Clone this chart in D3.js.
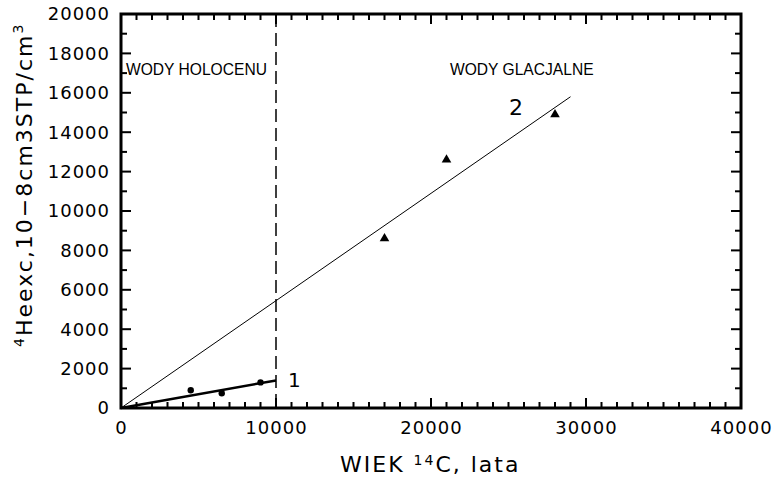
<!DOCTYPE html>
<html>
<head>
<meta charset="utf-8">
<script src="https://cdn.jsdelivr.net/npm/d3@7"></script>
<style>
  body { margin: 0; background: #fff; }
  svg { display: block; }
  .lbl { font-family: "DejaVu Sans", sans-serif; font-size: 18px; letter-spacing: 1px; fill: #000; }
</style>
</head>
<body>
<div id="chart"></div>
<script>
// dane: wody holocenu (1) i wody glacjalne (2)
var holoAge = [4500, 6500, 9000];
var holoHe = [900, 750, 1300];
var glacAge = [17000, 21000, 28000];
var glacHe = [8600, 12600, 14900];
// proste regresji
var fit1Age = [0, 10000];
var fit1He = [0, 1400];
var fit2Age = [0, 29000];
var fit2He = [0, 15800];
var boundaryAge = 10000;
var xTicks = [0, 10000, 20000, 30000, 40000];
var yTicks = [0, 2000, 4000, 6000, 8000, 10000, 12000, 14000, 16000, 18000, 20000];

var width = 777, height = 479;

var svg = d3.select("#chart")
    .append("svg")
    .attr("width", width)
    .attr("height", height);

var x = d3.scaleLinear().domain([0, 40000]).range([121, 741]);
var y = d3.scaleLinear().domain([0, 20000]).range([408, 14]);

var xMinor = d3.range(0, 40001, 1000);
var yMinor = d3.range(0, 20001, 1000);

// ramka
svg.append("rect")
    .attr("x", x(0)).attr("y", y(20000))
    .attr("width", x(40000) - x(0)).attr("height", y(0) - y(20000))
    .attr("fill", "none").attr("stroke", "#000").attr("stroke-width", 3);

// kreski do wewnątrz
var tickG = svg.append("g").attr("fill", "#000");
xMinor.forEach(function (v) {
    var len = v % 10000 === 0 ? 10 : 6;
    tickG.append("rect").attr("x", x(v) - 1).attr("y", y(0) - len).attr("width", 2).attr("height", len);
    tickG.append("rect").attr("x", x(v) - 1).attr("y", y(20000)).attr("width", 2).attr("height", len);
});
yMinor.forEach(function (v) {
    var len = v % 2000 === 0 ? 10 : 6;
    tickG.append("rect").attr("x", x(0)).attr("y", y(v) - 1).attr("width", len).attr("height", 2);
    tickG.append("rect").attr("x", x(40000) - len).attr("y", y(v) - 1).attr("width", len).attr("height", 2);
});

// opisy osi
svg.selectAll(null).data(xTicks).enter().append("text")
    .attr("class", "lbl")
    .attr("x", function (d) { return x(d) + 0.5; })
    .attr("y", 434)
    .attr("text-anchor", "middle")
    .text(d3.format("d"));
svg.selectAll(null).data(yTicks).enter().append("text")
    .attr("class", "lbl")
    .attr("x", 110)
    .attr("y", function (d) { return y(d); })
    .attr("dy", "0.36em")
    .attr("text-anchor", "end")
    .text(d3.format("d"));

// granica holocen / glacjał
svg.append("line")
    .attr("x1", x(boundaryAge)).attr("x2", x(boundaryAge))
    .attr("y1", y(20000)).attr("y2", y(0))
    .attr("stroke", "#000").attr("stroke-width", 1.5)
    .attr("stroke-dasharray", "13,6");

// proste
var line = d3.line().x(function (d) { return x(d[0]); }).y(function (d) { return y(d[1]); });
svg.append("path")
    .attr("d", line(d3.zip(fit2Age, fit2He)))
    .attr("fill", "none").attr("stroke", "#000").attr("stroke-width", 1);
svg.append("path")
    .attr("d", line(d3.zip(fit1Age, fit1He)))
    .attr("fill", "none").attr("stroke", "#000").attr("stroke-width", 2.5);

// punkty
svg.selectAll(null)
    .data(d3.zip(holoAge, holoHe))
    .enter().append("circle")
    .attr("cx", function (d) { return x(d[0]); })
    .attr("cy", function (d) { return y(d[1]); })
    .attr("r", 3.2)
    .attr("fill", "#000");

var tri = d3.symbol().type(d3.symbolTriangle).size(40);
svg.selectAll(null)
    .data(d3.zip(glacAge, glacHe))
    .enter().append("path")
    .attr("d", tri)
    .attr("transform", function (d) { return "translate(" + x(d[0]) + "," + y(d[1]) + ")"; })
    .attr("fill", "#000");

// opisy
svg.append("text").attr("x", 126).attr("y", 75)
    .style("font-family", "Liberation Sans, Arial, sans-serif").style("font-size", "15.6px")
    .text("WODY HOLOCENU");
svg.append("text").attr("x", 450).attr("y", 75)
    .style("font-family", "Liberation Sans, Arial, sans-serif").style("font-size", "15.6px")
    .text("WODY GLACJALNE");
svg.append("text").attr("x", 288).attr("y", 387)
    .style("font-family", "DejaVu Sans, sans-serif").style("font-size", "20px")
    .text("1");
svg.append("text").attr("x", 509).attr("y", 115)
    .style("font-family", "DejaVu Sans, sans-serif").style("font-size", "22px")
    .text("2");

// tytuł osi X
var xt = svg.append("text").attr("x", 340).attr("y", 472)
    .style("font-family", "DejaVu Sans, sans-serif").style("font-size", "22px").style("letter-spacing", "2px");
xt.append("tspan").text("WIEK ");
xt.append("tspan").attr("dy", -7).style("font-size", "14px").text("14");
xt.append("tspan").attr("dy", 7).text("C, lata");

// tytuł osi Y
var yt = svg.append("text")
    .attr("transform", "translate(32,347) rotate(-90)")
    .style("font-family", "DejaVu Sans, sans-serif").style("font-size", "22px").style("letter-spacing", "2px");
yt.append("tspan").attr("dy", -8).style("font-size", "14px").text("4");
yt.append("tspan").attr("dy", 8).text("Heexc,10−8cm3STP/cm");
yt.append("tspan").attr("dy", -9).style("font-size", "14px").text("3");
</script>
</body>
</html>
